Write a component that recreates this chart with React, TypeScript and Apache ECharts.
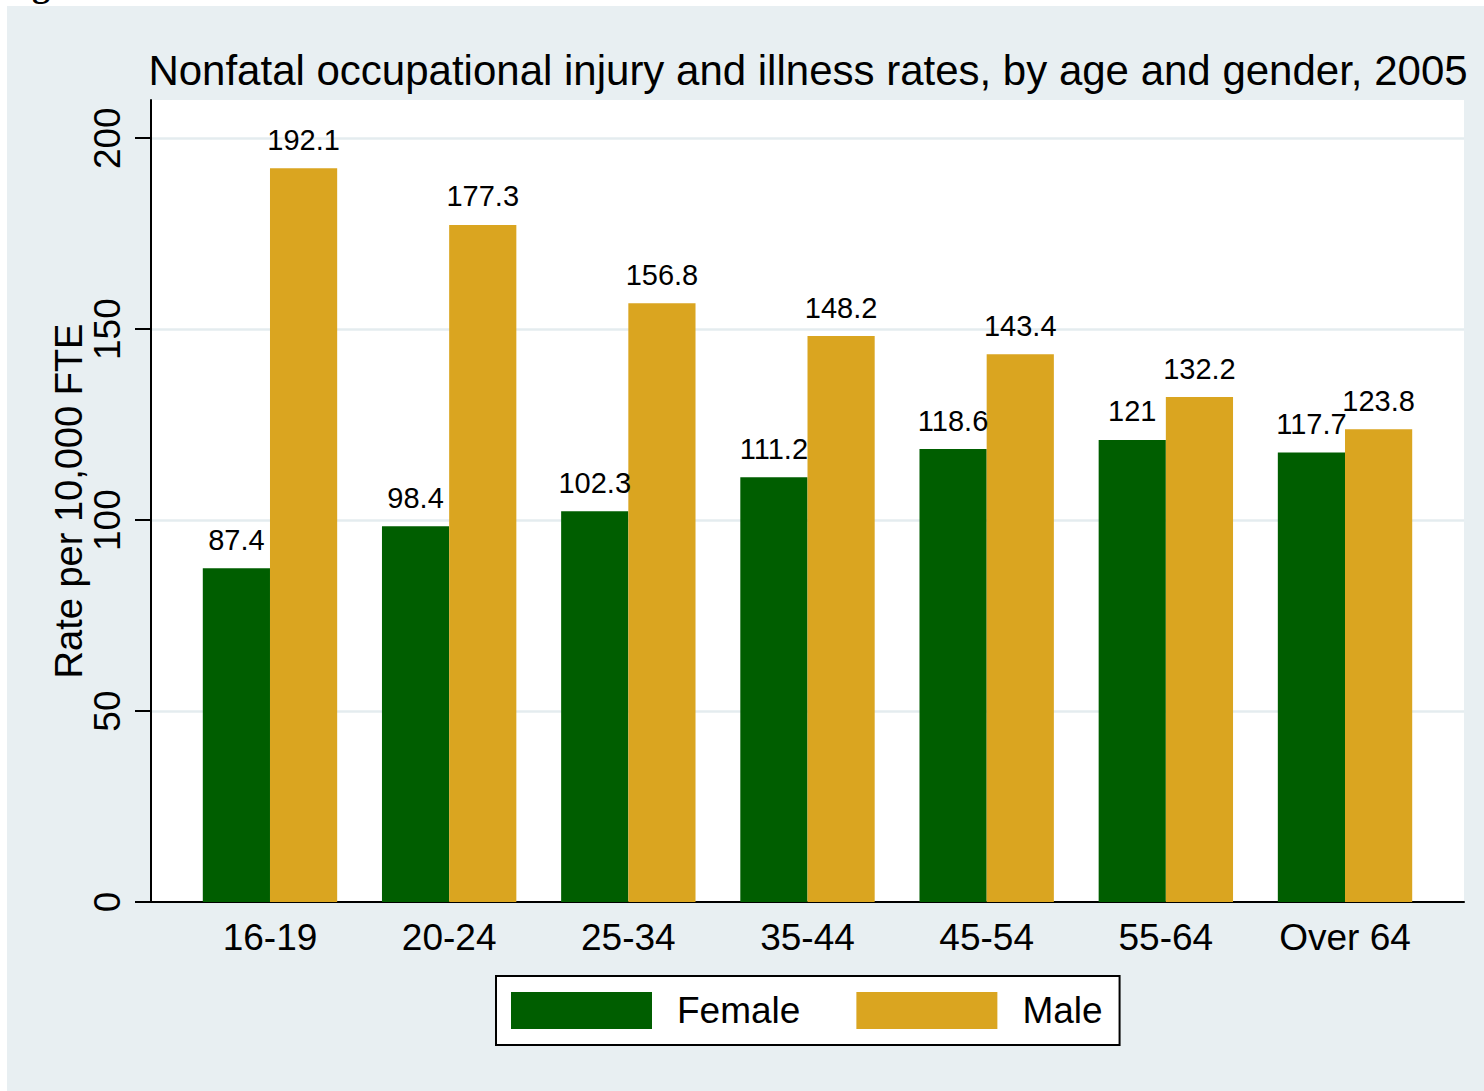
import React, { useEffect, useRef } from "react";
import * as echarts from "echarts";

const categories = ["16-19", "20-24", "25-34", "35-44", "45-54", "55-64", "Over 64"];
const femaleValues = [87.4, 98.4, 102.3, 111.2, 118.6, 121, 117.7];
const maleValues = [192.1, 177.3, 156.8, 148.2, 143.4, 132.2, 123.8];
const yTickValues = [0, 50, 100, 150, 200];
const titleText = "Nonfatal occupational injury and illness rates, by age and gender, 2005";
const yAxisName = "Rate per 10,000 FTE";

const FONT = '"Liberation Sans", Arial, Helvetica, sans-serif';
const GREEN = "#005e00";
const GOLD = "#DAA520";
const BG = "#e8eff2";
const GRIDLINE = "#e4ecef";

export default function App() {
  const ref = useRef<HTMLDivElement>(null);
  useEffect(() => {
    if (!ref.current) return;
    const chart = echarts.init(ref.current, null, { renderer: "svg" });
    const barLabel = {
      show: true,
      position: "top",
      distance: 14,
      color: "#000",
      fontFamily: FONT,
      fontSize: 29,
    };
    chart.setOption({
      animation: false,
      backgroundColor: "#ffffff",
      textStyle: { fontFamily: FONT },
      graphic: [
        {
          type: "rect",
          z: -10,
          silent: true,
          shape: { x: 7, y: 6, width: 1484, height: 1091 },
          style: { fill: BG },
        },
        {
          type: "text",
          z: -10,
          silent: true,
          style: {
            text: "Fig",
            x: 0,
            y: 1.5,
            verticalAlign: "bottom",
            font: 'bold 36px "Liberation Serif", serif',
            fill: "#000",
          },
        },
      ],
      title: {
        text: titleText,
        left: 808,
        top: 49,
        textAlign: "center",
        padding: 0,
        textStyle: { fontFamily: FONT, fontSize: 42, fontWeight: "normal", color: "#000" },
      },
      legend: {
        data: ["Female", "Male"],
        left: 496,
        top: 976,
        orient: "horizontal",
        backgroundColor: "#ffffff",
        borderColor: "#000",
        borderWidth: 2,
        borderRadius: 0,
        padding: [16, 17, 16, 15],
        itemWidth: 141,
        itemHeight: 37,
        itemGap: 56,
        icon: "rect",
        textStyle: { fontFamily: FONT, fontSize: 37, color: "#000", padding: [0, 0, 0, 20] },
      },
      grid: [
        { left: 180.4, right: 49.4, top: 100, bottom: 189, containLabel: false },
        {
          left: 151,
          right: 20,
          top: 100,
          bottom: 189,
          show: true,
          backgroundColor: "#ffffff",
          borderWidth: 0,
          z: 0,
        },
      ],
      xAxis: [
        {
          type: "category",
          gridIndex: 0,
          data: categories,
          axisLine: { show: false },
          axisTick: { show: false },
          axisLabel: { fontFamily: FONT, fontSize: 37, color: "#000", margin: 17 },
          splitLine: { show: false },
        },
        {
          type: "value",
          gridIndex: 1,
          min: 0,
          max: 1,
          axisLine: { show: true, onZero: false, lineStyle: { color: "#000", width: 2 } },
          axisTick: { show: false },
          axisLabel: { show: false },
          splitLine: { show: false },
        },
      ],
      yAxis: [
        {
          type: "value",
          gridIndex: 0,
          min: 0,
          max: 210,
          show: false,
          splitLine: { show: false },
        },
        {
          type: "value",
          gridIndex: 1,
          min: 0,
          max: 210,
          interval: 50,
          name: yAxisName,
          nameLocation: "middle",
          nameRotate: 90,
          nameGap: 63,
          nameMoveOverlap: false,
          nameTextStyle: { fontFamily: FONT, fontSize: 38, color: "#000" },
          axisLine: { show: true, lineStyle: { color: "#000", width: 2 } },
          axisTick: {
            show: true,
            length: 16,
            customValues: yTickValues,
            lineStyle: { color: "#000", width: 2 },
          },
          axisLabel: {
            rotate: 90,
            fontFamily: FONT,
            fontSize: 37,
            color: "#000",
            margin: 25,
            customValues: yTickValues,
          },
          splitLine: { show: true, lineStyle: { color: GRIDLINE, width: 2.5 } },
        },
      ],
      series: [
        {
          name: "Female",
          type: "bar",
          xAxisIndex: 0,
          yAxisIndex: 0,
          data: femaleValues,
          itemStyle: { color: GREEN },
          barGap: "0%",
          barCategoryGap: "25%",
          label: barLabel,
          z: 3,
        },
        {
          name: "Male",
          type: "bar",
          xAxisIndex: 0,
          yAxisIndex: 0,
          data: maleValues,
          itemStyle: { color: GOLD },
          barGap: "0%",
          barCategoryGap: "25%",
          label: barLabel,
          z: 3,
        },
      ],
    });
    return () => chart.dispose();
  }, []);
  return (
    <div
      ref={ref}
      style={{ position: "absolute", left: 0, top: 0, width: 1484, height: 1091 }}
    />
  );
}
